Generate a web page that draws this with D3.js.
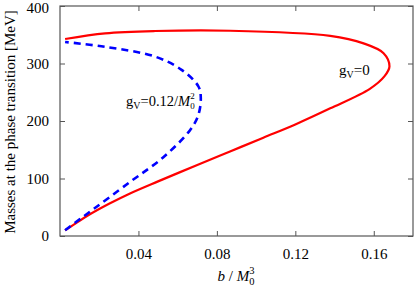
<!DOCTYPE html>
<html>
<head>
<meta charset="utf-8">
<script src="https://cdn.jsdelivr.net/npm/d3@7"></script>
<style>
  html, body { margin: 0; padding: 0; background: #fff; }
  svg { display: block; }
  text { font-family: "Liberation Serif", "Times New Roman", serif; fill: #000; }
</style>
</head>
<body>
<svg id="chart" width="415" height="287"></svg>
<script>
// Data (b / M0^3, mass in MeV)
const redB = [0.0026, 0.008, 0.0144, 0.025, 0.0357, 0.05, 0.0697, 0.0867, 0.1037, 0.12, 0.1378, 0.158, 0.1655, 0.168, 0.165, 0.1548, 0.1378, 0.0867, 0.0485, 0.023, 0.0026];
const redM = [10, 22, 36, 56, 74, 95, 123, 147, 171, 194, 222, 256, 278, 295, 318, 335, 348, 357, 356.5, 352.5, 342.6];
const blueB = [0.0026, 0.01, 0.0144, 0.0357, 0.0527, 0.0663, 0.0705, 0.0718, 0.0706, 0.062, 0.0485, 0.023, 0.0026];
const blueM = [10, 29, 40, 94, 137, 184, 210, 240, 260, 289, 312, 329, 337.4];
const xTicks = [0.04, 0.08, 0.12, 0.16];
const yTicks = [0, 100, 200, 300, 400];

const svg = d3.select("#chart");
const L = 60, R = 413, T = 6, B = 236;
const x = d3.scaleLinear().domain([0, 0.18]).range([L, R]);
const y = d3.scaleLinear().domain([0, 400]).range([B, T]);

const frameColor = "#555";
const FS = 15;

function styleAxis(g) {
  g.select(".domain").remove();
  g.selectAll(".tick line").attr("stroke", frameColor).attr("stroke-width", 1);
}
svg.append("g").attr("transform", `translate(0,${B})`)
  .call(d3.axisBottom(x).tickValues(xTicks).tickSizeInner(-5).tickSizeOuter(0).tickPadding(12).tickFormat(d3.format(".2f")))
  .call(styleAxis)
  .call(g => g.selectAll(".tick text").attr("font-size", FS).attr("font-family", "Liberation Serif").attr("fill", "#000"));
svg.append("g").attr("transform", `translate(0,${T})`)
  .call(d3.axisTop(x).tickValues(xTicks).tickSizeInner(-5).tickSizeOuter(0).tickFormat(""))
  .call(styleAxis);
svg.append("g").attr("transform", `translate(${L},0)`)
  .call(d3.axisLeft(y).tickValues(yTicks).tickSizeInner(-5).tickSizeOuter(0).tickPadding(11).tickFormat(d3.format("d")))
  .call(styleAxis)
  .call(g => g.selectAll(".tick text").attr("font-size", FS).attr("font-family", "Liberation Serif").attr("fill", "#000")
    .attr("dy", d => d === 400 ? "0.42em" : "0.32em"));
svg.append("g").attr("transform", `translate(${R},0)`)
  .call(d3.axisRight(y).tickValues(yTicks).tickSizeInner(-5).tickSizeOuter(0).tickFormat(""))
  .call(styleAxis);

svg.append("rect").attr("x", L).attr("y", T).attr("width", R - L).attr("height", B - T)
  .attr("fill", "none").attr("stroke", frameColor).attr("stroke-width", 1.2);

const line = d3.line().x(d => x(d[0])).y(d => y(d[1])).curve(d3.curveCatmullRom.alpha(0.5));
const redPts = redB.map((b, i) => [b, redM[i]]);
const bluePts = blueB.map((b, i) => [b, blueM[i]]);

svg.append("path").datum(redPts).attr("d", line)
  .attr("fill", "none").attr("stroke", "#ff0000").attr("stroke-width", 2.2);
svg.append("path").datum(bluePts).attr("d", line)
  .attr("fill", "none").attr("stroke", "#0000ff").attr("stroke-width", 2.6)
  .attr("stroke-dasharray", "7,5");

svg.append("text")
  .attr("transform", `translate(15,122) rotate(-90)`)
  .attr("text-anchor", "middle").attr("font-size", FS)
  .text("Masses at the phase transition  [MeV]");

const xl = svg.append("text").attr("x", 236).attr("y", 281).attr("text-anchor", "middle").attr("font-size", FS);
xl.append("tspan").attr("font-style", "italic").text("b");
xl.append("tspan").text(" / ");
xl.append("tspan").attr("font-style", "italic").text("M");
xl.append("tspan").attr("font-size", 10.5).attr("dy", 4).text("0");
xl.append("tspan").attr("font-size", 10.5).attr("dx", -5.3).attr("dy", -11).text("3");

const l1 = svg.append("text").attr("x", 339).attr("y", 75).attr("font-size", FS);
l1.append("tspan").text("g");
l1.append("tspan").attr("font-size", 10).attr("dy", 3).text("V");
l1.append("tspan").attr("dy", -3).text("=0");

const l2 = svg.append("text").attr("x", 126).attr("y", 106).attr("font-size", 14.5);
l2.append("tspan").text("g");
l2.append("tspan").attr("font-size", 10).attr("dy", 3).text("V");
l2.append("tspan").attr("dy", -3).text("=0.12/");
l2.append("tspan").attr("font-style", "italic").text("M");
l2.append("tspan").attr("font-size", 9).attr("dy", 3).text("0");
l2.append("tspan").attr("font-size", 9).attr("dx", -4.5).attr("dy", -10).text("2");
</script>
</body>
</html>
